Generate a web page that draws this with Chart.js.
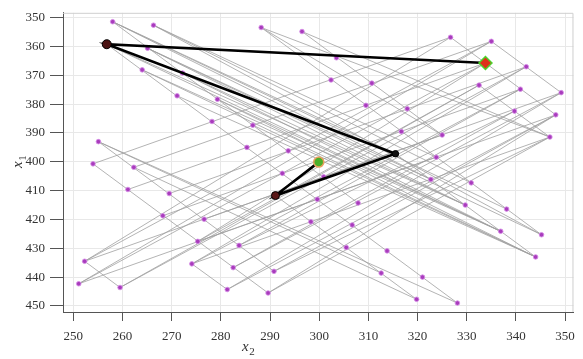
<!DOCTYPE html>
<html>
<head>
<meta charset="utf-8">
<script src="https://cdn.jsdelivr.net/npm/chart.js@4.4.0/dist/chart.umd.min.js"></script>
<style>
  html, body { margin: 0; padding: 0; background: #fff; }
</style>
</head>
<body>
<canvas id="mycanvas" width="583" height="359"></canvas>
<script>
// sample points (purple)
var ptX2 = [258.0, 266.3, 288.2, 296.5, 265.1, 264.0, 272.2, 271.1, 279.3, 278.2,
            286.5, 285.3, 293.7, 255.1, 254.0, 262.3, 261.1, 269.5, 268.2, 276.6,
            275.3, 283.7, 252.3, 274.1, 282.5, 290.8, 251.1, 259.5, 281.3, 289.6,
            326.7, 335.0, 342.1, 303.5, 302.4, 310.7, 332.5, 340.9, 349.2, 309.5,
            317.9, 339.7, 348.1, 316.7, 325.0, 346.9, 323.8, 292.5, 322.7, 330.9,
            299.6, 307.9, 329.7, 338.1, 298.3, 306.7, 336.9, 345.2, 305.5, 313.8,
            344.0, 312.6, 321.0, 319.8, 328.1, 300.9, 295.2, 256.8, 315.5, 291.1,
            333.8];
var ptX1 = [351.4, 352.6, 353.4, 354.8, 360.6, 368.1, 369.2, 377.1, 378.3, 386.0,
            387.3, 395.0, 396.2, 393.0, 400.7, 401.9, 409.6, 411.0, 418.7, 419.9,
            427.6, 429.0, 434.5, 435.4, 436.7, 438.0, 442.3, 443.6, 444.3, 445.5,
            356.8, 358.2, 367.0, 363.9, 371.6, 372.7, 373.4, 374.8, 376.0, 380.4,
            381.6, 382.4, 383.7, 389.5, 390.7, 391.4, 398.4, 404.0, 406.1, 407.3,
            413.0, 414.3, 415.0, 416.4, 420.8, 421.9, 424.1, 425.3, 429.7, 430.9,
            433.0, 438.6, 440.0, 447.7, 449.0, 405.2, 362.6, 359.2, 397.2, 411.7,
            365.7];
// points hidden under the black path / markers
var hiddenPts = [66, 67, 68, 69, 70];

// gray links between points (indexes into the arrays above)
var linkFrom = [
  // long rising links, lower left -> upper right
  22, 22, 26, 26, 20, 20, 27, 27, 23, 23, 21, 21, 24, 24, 28, 28, 25, 25, 29, 29,
  // flatter rising links
  14, 15, 16, 17, 18, 19, 20, 22, 23, 26,
  // steep falling columns
  0, 67, 2, 3, 13, 14, 30, 31, 36, 68, 69, 22, 23,
  // falling links, upper left -> lower right
  0, 1, 4, 6, 8, 10, 13, 15,
  67, 5, 7, 13,
  0, 1, 4, 6, 8,
  0, 1, 4, 67, 5,
  3, 2, 2];
var linkTo = [
  30, 31, 31, 70, 70, 36, 36, 32, 32, 37, 37, 41, 41, 38, 38, 42, 42, 45, 45, 42,
  30, 31, 70, 32, 37, 38, 42, 44, 45, 46,
  51, 64, 57, 44, 25, 29, 42, 38, 45, 60, 63, 27, 28,
  68, 46, 48, 52, 56, 60, 61, 63,
  52, 56, 60, 64,
  48, 49, 52, 56, 60,
  53, 57, 57, 56, 60,
  45, 44, 45];

// search path (black) and its two end markers
var pathX2 = [333.8, 256.8, 315.5, 291.1, 299.9];
var pathX1 = [365.7, 359.2, 397.2, 411.7, 400.1];

var xTicks = [250, 260, 270, 280, 290, 300, 310, 320, 330, 340, 350];
var yTicks = [350, 360, 370, 380, 390, 400, 410, 420, 430, 440, 450];

// build line data, a break (null) between two links
var linkData = [];
for (var i = 0; i < linkFrom.length; i++) {
  linkData.push({x: ptX2[linkFrom[i]], y: ptX1[linkFrom[i]]});
  linkData.push({x: ptX2[linkTo[i]], y: ptX1[linkTo[i]]});
  linkData.push({x: ptX2[linkTo[i]], y: null});
}
var pointData = [];
for (var i = 0; i < ptX2.length; i++) {
  if (hiddenPts.indexOf(i) < 0) pointData.push({x: ptX2[i], y: ptX1[i]});
}
var pathData = [];
for (var i = 0; i < pathX2.length; i++) {
  pathData.push({x: pathX2[i], y: pathX1[i]});
}

var serif = "'Liberation Serif', 'DejaVu Serif', serif";

// frame + italic axis names with subscripts
var extras = {
  id: 'extras',
  beforeDatasetsDraw: function(chart) {
    var a = chart.chartArea, ctx = chart.ctx;
    ctx.save();
    ctx.strokeStyle = '#cfcfcf';
    ctx.lineWidth = 1;
    ctx.beginPath();
    ctx.moveTo(a.left, a.top + 0.5);
    ctx.lineTo(a.right - 0.5, a.top + 0.5);
    ctx.lineTo(a.right - 0.5, a.bottom);
    ctx.stroke();
    ctx.restore();
  },
  afterDraw: function(chart) {
    var ctx = chart.ctx;
    function label(main, sub, x, y, rot) {
      ctx.save();
      ctx.translate(x, y);
      ctx.rotate(rot);
      ctx.fillStyle = '#333';
      ctx.textBaseline = 'alphabetic';
      ctx.font = 'italic 15px ' + serif;
      ctx.fillText(main, 0, 0);
      var w = ctx.measureText(main).width;
      ctx.font = '11px ' + serif;
      ctx.fillText(sub, w + 0.5, 4);
      ctx.restore();
    }
    label('x', '2', 242, 351, 0);
    label('x', '1', 22, 168, -Math.PI / 2);
  }
};

new Chart(document.getElementById('mycanvas'), {
  type: 'scatter',
  data: {
    datasets: [
      {
        data: linkData,
        showLine: true,
        spanGaps: false,
        borderColor: 'rgba(160,160,160,0.8)',
        borderWidth: 1,
        pointRadius: 0,
        tension: 0,
        order: 4
      },
      {
        data: pointData,
        pointRadius: 2.3,
        pointBackgroundColor: '#a83cbc',
        pointBorderColor: 'rgba(214,140,230,0.85)',
        pointBorderWidth: 1,
        order: 3
      },
      {
        data: pathData,
        showLine: true,
        borderColor: '#000',
        borderWidth: 2.6,
        tension: 0,
        pointRadius: [0, 4.5, 3.2, 4, 0],
        pointBackgroundColor: ['#000', '#4a1212', '#111', '#5a1616', '#000'],
        pointBorderColor: '#000',
        pointBorderWidth: 1,
        order: 2
      },
      {
        data: [pathData[0], pathData[4]],
        pointStyle: ['rectRot', 'circle'],
        pointRadius: [6.5, 5],
        pointBackgroundColor: ['#e0301a', '#4cb02a'],
        pointBorderColor: ['#4bd32a', '#eaa060'],
        pointBorderWidth: 1.5,
        order: 1
      }
    ]
  },
  options: {
    responsive: false,
    animation: false,
    devicePixelRatio: 1,
    layout: { padding: { top: 10, right: 2, left: 0, bottom: 0 } },
    plugins: { legend: { display: false }, tooltip: { enabled: false } },
    scales: {
      x: {
        type: 'linear',
        min: 247.9,
        max: 351.7,
        afterBuildTicks: function(s) { s.ticks = xTicks.map(function(v) { return {value: v}; }); },
        afterFit: function(s) { s.height = 47; },
        grid: { color: '#e8e8e8', tickColor: '#555', tickLength: 9, drawTicks: true },
        border: { color: '#555', width: 1 },
        ticks: { color: '#333', padding: 8, maxRotation: 0, font: { family: serif, size: 13 } }
      },
      y: {
        type: 'linear',
        reverse: true,
        min: 348.3,
        max: 452.1,
        afterBuildTicks: function(s) { s.ticks = yTicks.map(function(v) { return {value: v}; }); },
        afterFit: function(s) { s.width = 63; },
        grid: { color: '#e8e8e8', tickColor: '#555', tickLength: 13, drawTicks: true },
        border: { color: '#555', width: 1 },
        ticks: { color: '#333', padding: 5, font: { family: serif, size: 13 } }
      }
    }
  },
  plugins: [extras]
});
</script>
</body>
</html>
